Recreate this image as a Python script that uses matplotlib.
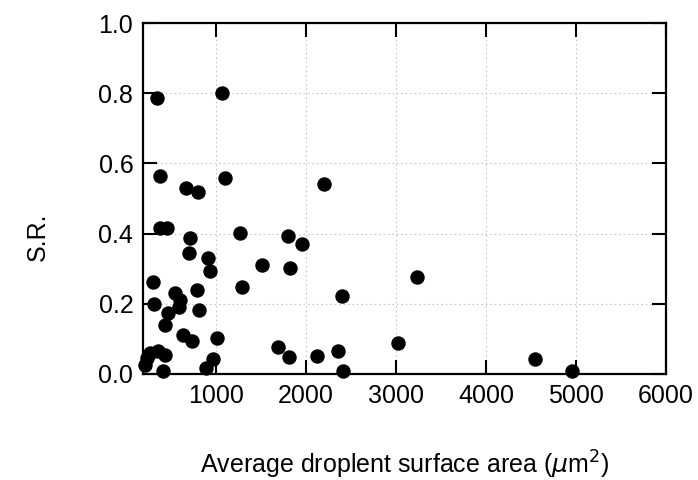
import matplotlib
matplotlib.use("Agg")
import matplotlib.pyplot as plt

plt.rcParams['font.family'] = ['Liberation Sans', 'DejaVu Sans']

# average droplet surface area (um^2) and S.R.
area = [341, 1063, 378, 663, 796, 1100, 2204, 378, 452, 1267,
        1804, 1952, 711, 703, 915, 933, 1507, 1822, 297, 1292,
        785, 2404, 544, 600, 592, 311, 470, 814, 433, 637,
        730, 1015, 1693, 1811, 2118, 2359, 2414, 408, 963, 889,
        3230, 3026, 4544, 4952, 211, 267, 359, 433, 230]
sr = [0.785, 0.802, 0.565, 0.529, 0.518, 0.557, 0.541, 0.417, 0.417, 0.401,
      0.393, 0.370, 0.386, 0.344, 0.329, 0.294, 0.311, 0.301, 0.263, 0.249,
      0.239, 0.223, 0.230, 0.211, 0.192, 0.198, 0.175, 0.182, 0.140, 0.111,
      0.094, 0.102, 0.078, 0.049, 0.051, 0.064, 0.007, 0.009, 0.042, 0.016,
      0.277, 0.087, 0.043, 0.009, 0.026, 0.061, 0.064, 0.054, 0.045]

xticks = [1000, 2000, 3000, 4000, 5000, 6000]
yticks = [0.0, 0.2, 0.4, 0.6, 0.8, 1.0]

fig = plt.figure(figsize=(6.98, 4.8), dpi=100)
ax = fig.add_axes([0.205, 0.221, 0.749, 0.731])

ax.scatter(area, sr, s=88, color='black', zorder=3, clip_on=False)

ax.set_xlim(190, 6000)
ax.set_ylim(0, 1.0)
ax.set_xticks(xticks)
ax.set_yticks(yticks)
ax.set_yticklabels([f"{v:.1f}" for v in yticks])

ax.grid(True, linestyle=(0, (1.5, 2.5)), color='#c8c8c8', linewidth=0.8)
ax.set_axisbelow(True)

for sp in ax.spines.values():
    sp.set_linewidth(1.6)

ax.tick_params(direction='in', length=10, width=1.5, top=True, right=True,
               labelsize=18, pad=7)

ax.set_xlabel(r"Average droplent surface area ($\mu$m$^2$)", fontsize=18)
ax.set_ylabel("S.R.", fontsize=18)
ax.xaxis.set_label_coords(0.5, -0.212)
ax.yaxis.set_label_coords(-0.178, 0.39)

fig.savefig("out.png", dpi=100)
